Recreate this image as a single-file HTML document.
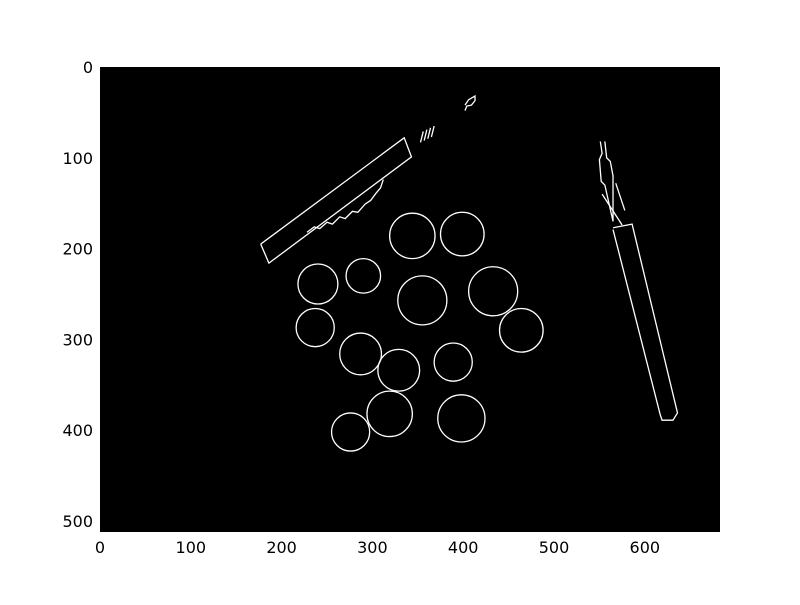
<!DOCTYPE html>
<html><head><meta charset="utf-8"><style>
body{margin:0;background:#fff;}
svg text{font-family:"DejaVu Sans","Liberation Sans",sans-serif;font-size:16px;fill:#000;}
</style></head><body>
<svg id="chart" width="800" height="600" viewBox="0 0 800 600" xmlns="http://www.w3.org/2000/svg">
<rect x="0" y="0" width="800" height="600" fill="#fff"/>
<rect x="100" y="67" width="620" height="465" fill="#000"/>
<g id="marks" fill="none" stroke="#fff" stroke-width="1.3"></g>
<g id="ticks"></g>
</svg>
<script>
const xTicks=[0,100,200,300,400,500,600];
const yTicks=[0,100,200,300,400,500];
const circleX=[344,399,240,290,355,433,464,237,287,329,389,319,398,276];
const circleY=[186,184,239,230,257,247,290,287,316,334,325,382,387,402];
const circleR=[25,24,22,19,27,27,24,21,23,23,21,25,26,21];
const penLeftX=[177,186,343,335,177];
const penLeftY=[195,216,99,78,195];
const waveX=[228,236,242,250,256,264,270,278,284,292,298,304,309,312];
const waveY=[182,176,178,171,173,165,167,159,160,151,147,139,133,124];
const penRightX=[565,586,636,631,619,617,565];
const penRightY=[177,173,381,389,389,383,179];
const penTipX=[551,553,550,552,556,565,565,562,558,556];
const penTipY=[82,95,102,126,130,170,120,104,100,82];
const penClipX=[553,575,568,578];
const penClipY=[140,174,128,158];
const capX=[402,406,413,413,409,404,402];
const capY=[42,36,32,37,42,43,48];
const springX=[353,357,361,365];
const springY=[75,73,71,69];
const sx=v=>100+v*0.908, sy=v=>67+v*0.908;
const NS="http://www.w3.org/2000/svg";
const g=document.getElementById('marks'), t=document.getElementById('ticks');
circleX.forEach((cx,i)=>{const c=document.createElementNS(NS,'circle');
c.setAttribute('cx',sx(cx));c.setAttribute('cy',sy(circleY[i]));c.setAttribute('r',circleR[i]*0.908);


g.appendChild(c);});
function poly(xs,ys,name){const p=document.createElementNS(NS,'polyline');
p.setAttribute('points',xs.map((x,i)=>sx(x)+','+sy(ys[i])).join(' '));


g.appendChild(p);}
poly(penLeftX,penLeftY,'left-pen-edge');
poly(waveX,waveY,'left-pen-text-edge');
poly(penRightX,penRightY,'right-pen-edge');
poly(penTipX,penTipY,'right-pen-tip-edge');
poly([penClipX[0],penClipX[1]],[penClipY[0],penClipY[1]],'right-pen-clip-edge');
poly([penClipX[2],penClipX[3]],[penClipY[2],penClipY[3]],'right-pen-clip-edge');
poly(capX,capY,'cap-edge');
springX.forEach((x,i)=>{poly([x,x+3],[springY[i]+8,springY[i]-4],'spring-edge');});
xTicks.forEach(v=>{const e=document.createElementNS(NS,'text');
e.setAttribute('x',sx(v));e.setAttribute('y',553);e.setAttribute('text-anchor','middle');e.textContent=v;


t.appendChild(e);});
yTicks.forEach(v=>{const e=document.createElementNS(NS,'text');
e.setAttribute('x',93);e.setAttribute('y',sy(v)+6);e.setAttribute('text-anchor','end');e.textContent=v;


t.appendChild(e);});
</script>
</body></html>
